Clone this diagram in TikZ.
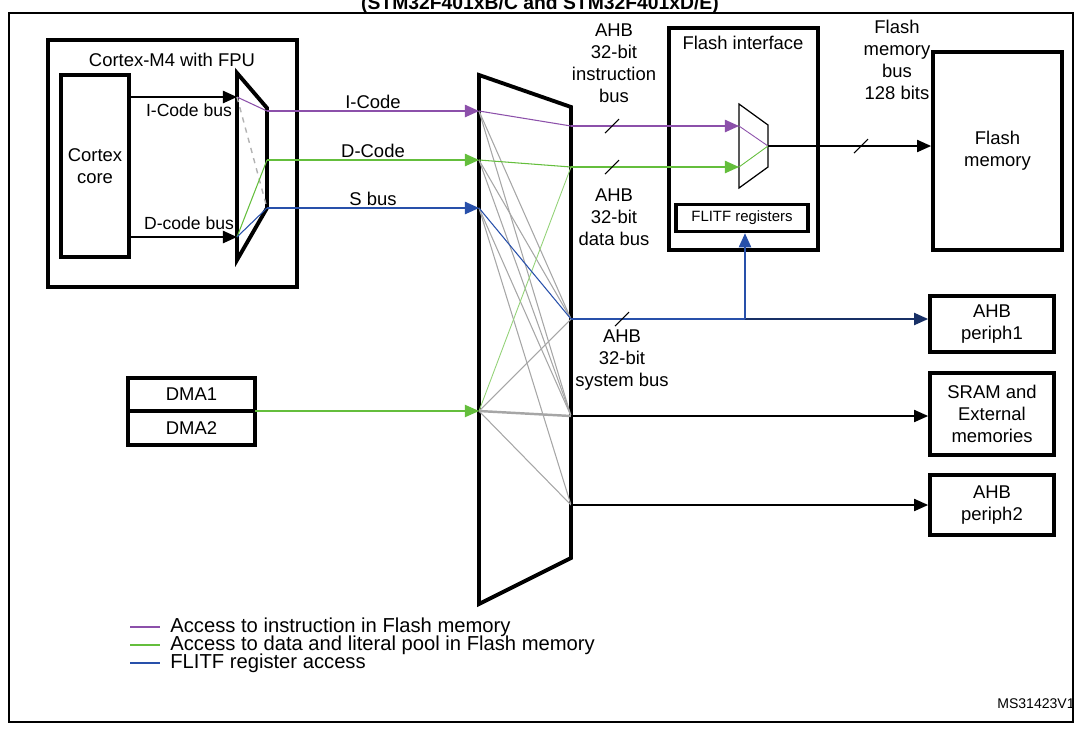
\documentclass[tikz,border=0pt]{standalone}
\usepackage{fontspec}
\setmainfont{Liberation Sans}
\usetikzlibrary{arrows.meta,positioning}
\definecolor{ibus}{RGB}{140,80,170}
\definecolor{dbus}{RGB}{100,190,60}
\definecolor{sbus}{RGB}{40,80,170}
\tikzset{
  blk/.style={draw,line width=2.2pt,inner sep=0pt},
  lbl/.style={font=\fontsize{10.5}{12.5}\selectfont,align=center,inner sep=1pt},
  arr/.style={-{Triangle[length=8pt,width=7pt]},line width=0.9pt},
  xl/.style={gray!70,line width=0.6pt},
  slash/.style={line width=0.6pt}
}
\begin{document}
\begin{tikzpicture}[x=0.02cm,y=-0.02cm]
    \useasboundingbox (0,0) rectangle (1080,728);
    \draw[line width=1pt] (9,13) rectangle (1073,722);
    \node[font=\bfseries\fontsize{11}{13}\selectfont] (title) at (540,4) {(STM32F401xB/C and STM32F401xD/E)};

    % Cortex-M4
    \draw[blk] (48,40) rectangle (297,287);
    \node[lbl] (cm4) at (172,60) {Cortex-M4 with FPU};
    \draw[blk] (61,75) rectangle (129,257);
    \node[lbl] (core) at (95,166) {Cortex\\core};
    \draw[blk] (237,73) -- (267,108) -- (267,208) -- (237,260) -- cycle;
    \coordinate (cI) at (129,97);  \coordinate (mI) at (237,97);
    \coordinate (cD) at (129,237); \coordinate (mD) at (237,237);
    \draw[arr] (cI) -- (mI);
    \draw[arr] (cD) -- (mD);
    \node[lbl,font=\fontsize{10}{12}\selectfont] (ibl) at (189,110) {I-Code bus};
    \node[lbl,font=\fontsize{10}{12}\selectfont] (dbl) at (189,223) {D-code bus};
    \draw[ibus,line width=0.6pt] (mI) -- (267,111);
    \draw[gray!60,dashed,line width=0.8pt] (mI) -- (267,208);
    \draw[dbus,line width=0.6pt] (mD) -- (267,160);
    \draw[sbus,line width=0.6pt] (mD) -- (267,208);

    % bus matrix
    \draw[blk] (479,75) -- (571,107) -- (571,558) -- (479,604) -- cycle;
    \foreach \n/\y in {I/111,D/160,S/208,M/411} \coordinate (in\n) at (479,\y);
    \foreach \n/\y in {I/126,D/167,S/319,R/416,P/505} \coordinate (out\n) at (571,\y);
    \draw[arr,ibus] (267,111) -- (inI) node[lbl,black,above,pos=0.5] (icl) {I-Code};
    \draw[arr,dbus] (267,160) -- (inD) node[lbl,black,above,pos=0.5] (dcl) {D-Code};
    \draw[arr,sbus] (267,208) -- (inS) node[lbl,black,above,pos=0.5] (scl) {S bus};
    \foreach \a/\b in {I/S,I/R,D/S,D/R,S/R,S/P,M/S,M/P} \draw[xl] (in\a) -- (out\b);
    \draw[gray!70,line width=1.4pt] (inM) -- (outR);
    \draw[ibus,line width=0.6pt] (inI) -- (outI);
    \draw[dbus,line width=0.6pt] (inD) -- (outD);
    \draw[dbus!70,line width=0.5pt] (inM) -- (outD);
    \draw[sbus,line width=0.6pt] (inS) -- (outS);

    % DMA
    \draw[blk] (128,378) rectangle (255,445);
    \draw[blk] (128,411) -- (255,411);
    \node[lbl] (dma1) at (191.5,394.5) {DMA1};
    \node[lbl] (dma2) at (191.5,428) {DMA2};
    \coordinate (dmaout) at (255,411);
    \draw[arr,dbus,line width=0.6pt] (dmaout) -- (inM);

    % Flash interface
    \draw[blk] (669,28) rectangle (818,250);
    \node[lbl] (fif) at (743,43) {Flash interface};
    \draw[line width=0.7pt] (739,104) -- (768,125) -- (768,167) -- (739,188) -- cycle;
    \coordinate (fmI) at (739,126); \coordinate (fmD) at (739,167); \coordinate (fmO) at (768,146);
    \draw[arr,ibus] (outI) -- (fmI);
    \draw[arr,dbus] (outD) -- (fmD);
    \draw[ibus,line width=0.5pt] (fmI) -- (fmO);
    \draw[dbus,line width=0.5pt] (fmD) -- (fmO);
    \node[draw,line width=2pt,minimum width=2.64cm,minimum height=0.54cm,font=\fontsize{8.5}{10}\selectfont] (flitf) at (742,218) {FLITF registers};
    \coordinate (tap) at (745,319);

    % targets
    \node[blk,lbl,minimum width=2.58cm,minimum height=3.96cm] (flash) at (997.5,151) {Flash\\memory};
    \node[blk,lbl,minimum width=2.48cm,minimum height=1.12cm] (p1) at (992,324) {AHB\\periph1};
    \node[blk,lbl,minimum width=2.48cm,minimum height=1.64cm] (sram) at (992,414) {SRAM and\\External\\memories};
    \node[blk,lbl,minimum width=2.48cm,minimum height=1.2cm] (p2) at (992,505) {AHB\\periph2};
    \draw[arr,line width=0.7pt] (fmO) -- (fmO -| flash.west);
    \draw[arr,sbus!60!black,line width=0.8pt] (outS) -- (outS -| p1.west);
    \draw[sbus,line width=0.8pt] (outS) -- (tap);
    \draw[arr,sbus] (tap) -- (flitf.south -| tap);
    \draw[arr,line width=0.7pt] (outR) -- (outR -| sram.west);
    \draw[arr,line width=0.7pt] (outP) -- (outP -| p2.west);

    % bus widths
    \foreach \x/\y in {612/126,612/167,622/319,861/146} \draw[slash] (\x-7,\y+7) -- (\x+7,\y-7);
    \node[lbl] (libus) at (614,63) {AHB\\32-bit\\instruction\\bus};
    \node[lbl] (ldbus) at (614,217) {AHB\\32-bit\\data bus};
    \node[lbl] (lsbus) at (622,360) {AHB\\32-bit\\system bus};
    \node[lbl] (lfbus) at (897,60) {Flash\\memory\\bus\\128 bits};

    % legend
    \foreach \c/\y/\t in {ibus/627/Access to instruction in Flash memory,
                          dbus/645/Access to data and literal pool in Flash memory,
                          sbus/663/FLITF register access} {
      \draw[\c,line width=0.8pt] (130,\y) -- (160,\y);
      \node[anchor=west,inner sep=0pt,font=\fontsize{11.5}{13}\selectfont] at (170,\y) {\t};
    }
    \node[font=\fontsize{8}{10}\selectfont] (ref) at (1036,704) {MS31423V1};
\end{tikzpicture}
\end{document}
